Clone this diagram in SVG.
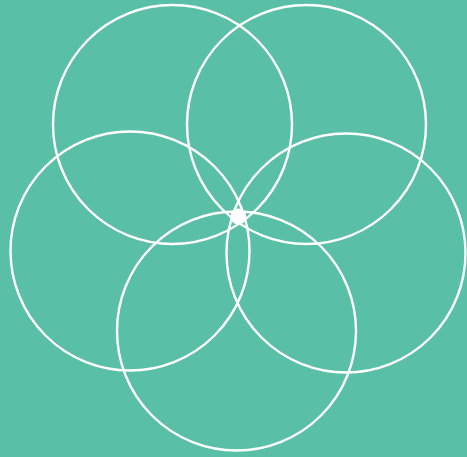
<svg xmlns="http://www.w3.org/2000/svg" width="467" height="457" viewBox="0 0 467 457">
<style>
.c{fill:none;stroke:#fff;stroke-width:2.4}
</style>
<rect width="467" height="457" fill="#59BFA7"/>
<g id="circles">
<circle id="c1" class="c" cx="172.5" cy="124.5" r="119.5"/>
<circle id="c2" class="c" cx="306.5" cy="124.5" r="119.5"/>
<circle id="c3" class="c" cx="130" cy="251" r="119.5"/>
<circle id="c4" class="c" cx="346" cy="253" r="119.5"/>
<circle id="c5" class="c" cx="236.5" cy="331" r="119.5"/>
</g>
<g id="center"><circle cx="238.3" cy="216.5" r="8" fill="#fff"/></g>
</svg>
